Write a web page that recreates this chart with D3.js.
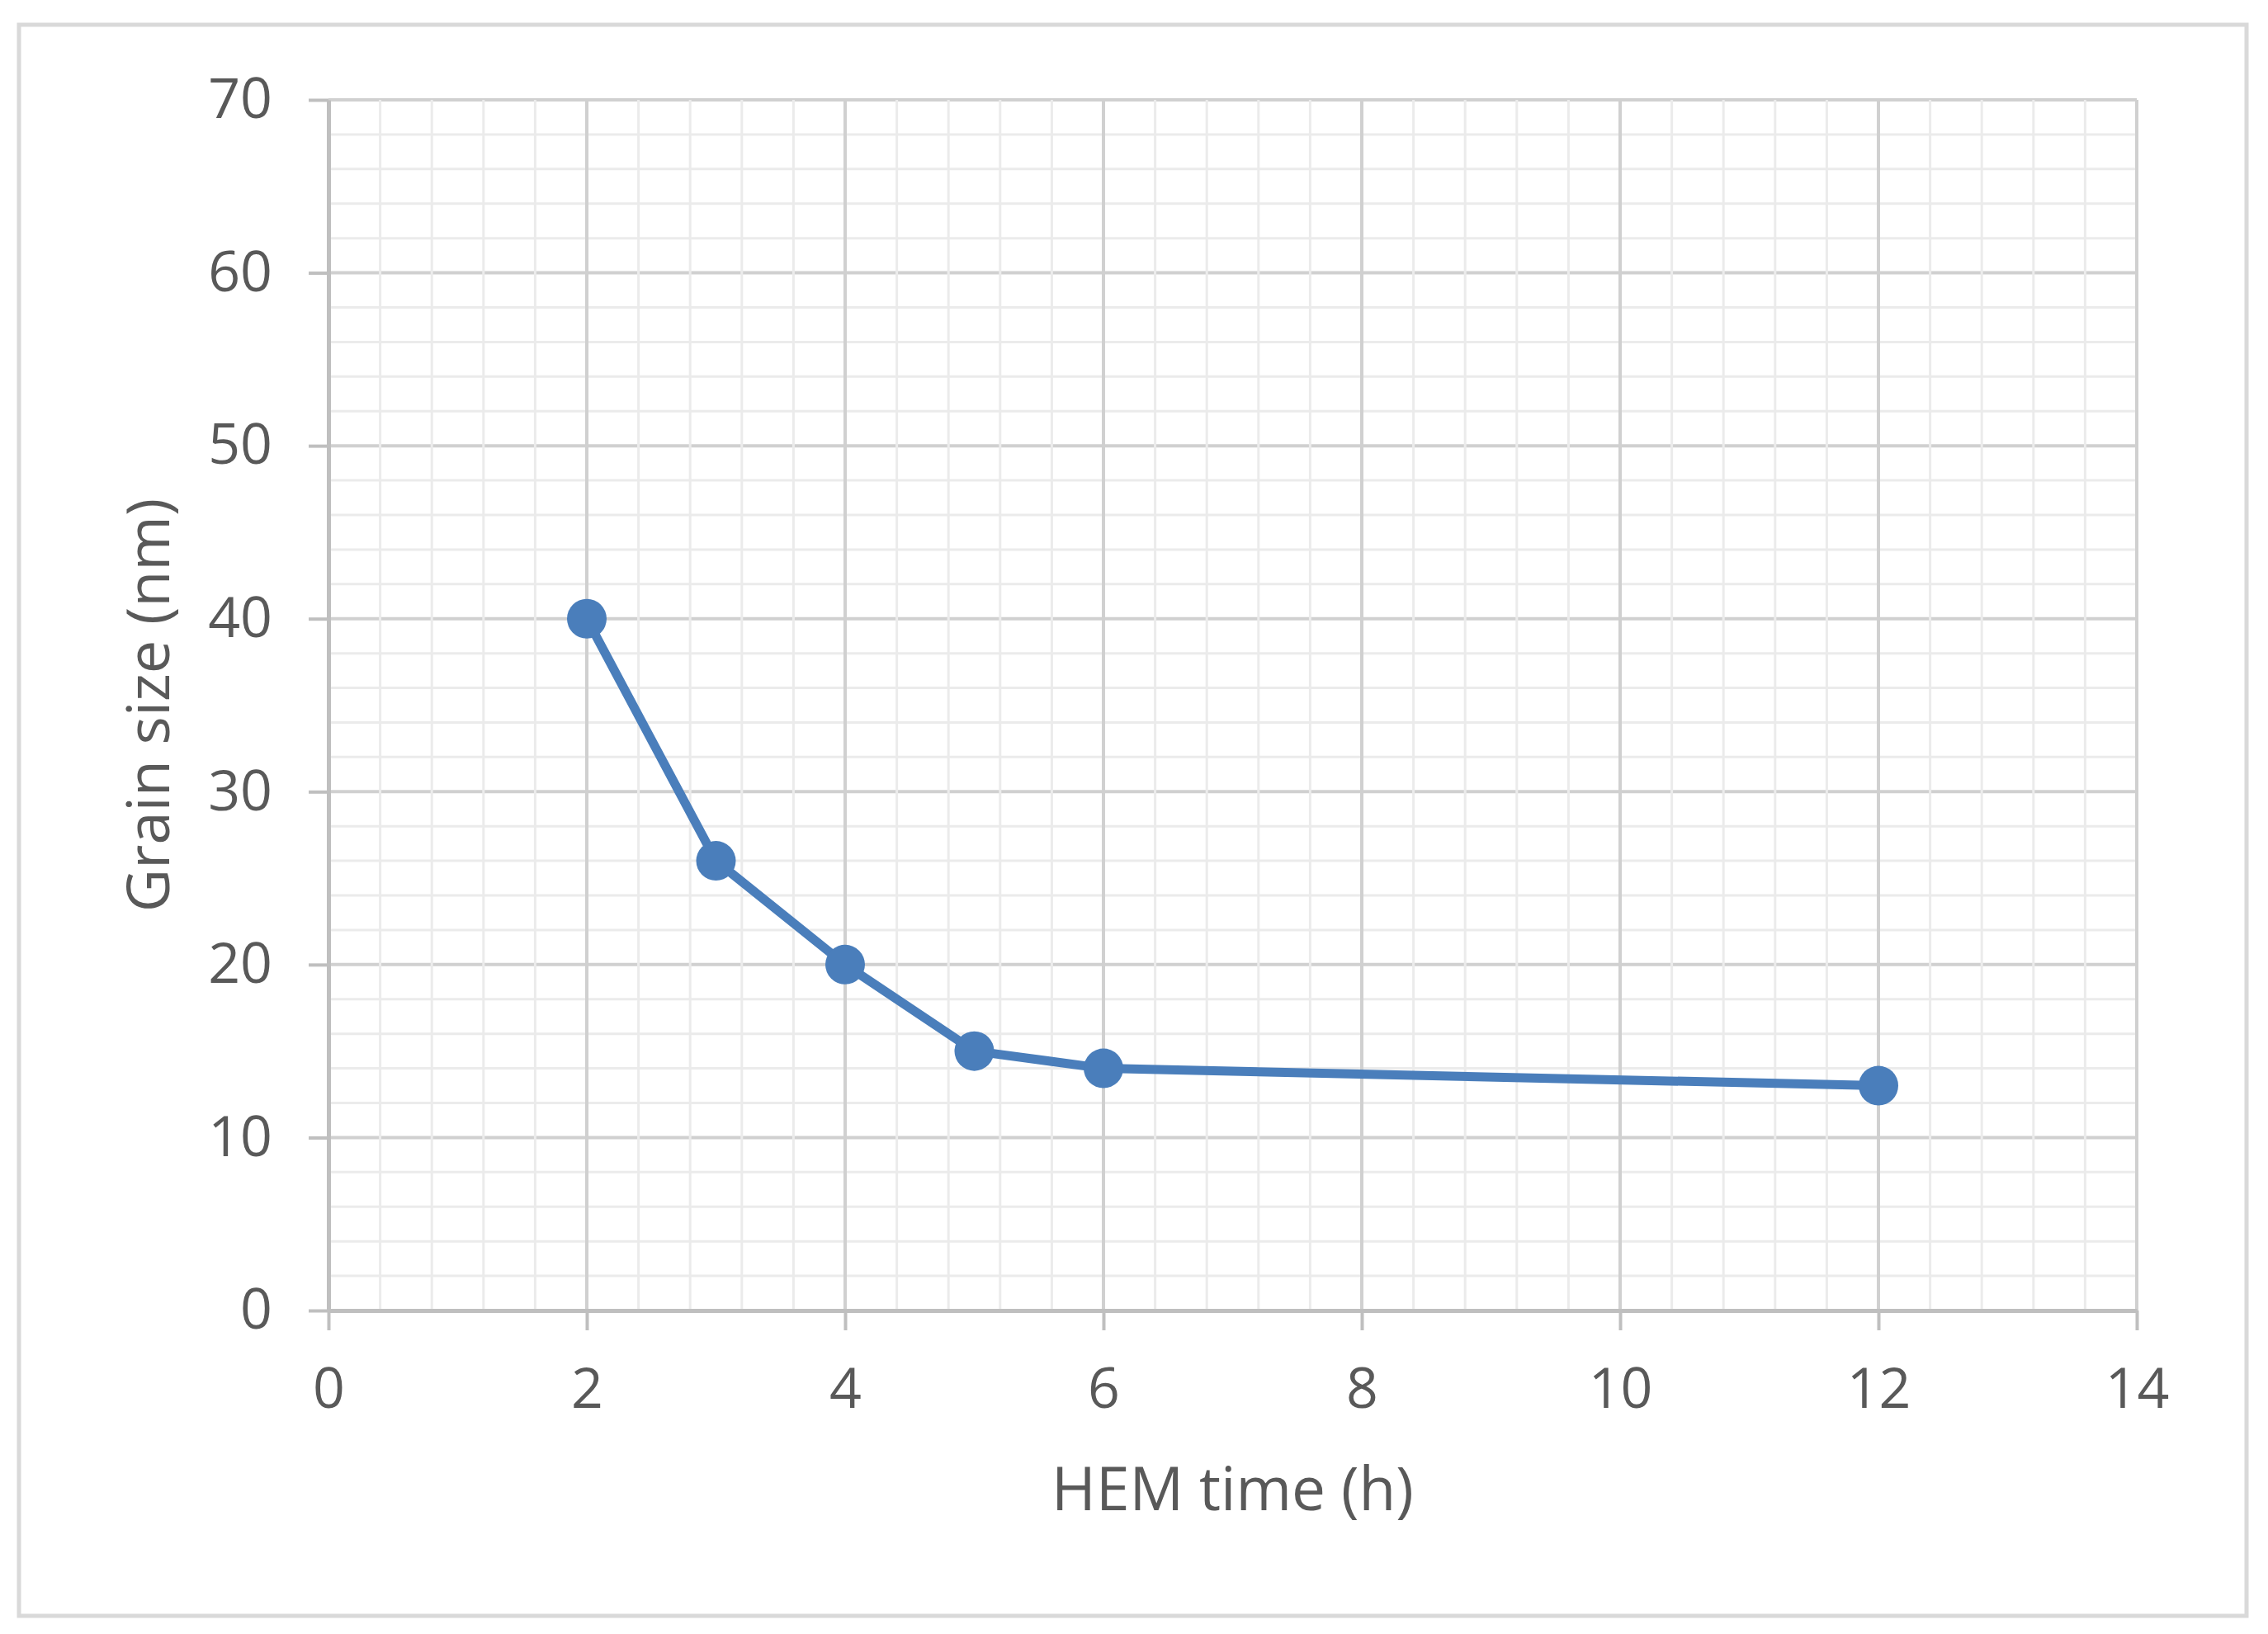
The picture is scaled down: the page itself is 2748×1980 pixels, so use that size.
<!DOCTYPE html>
<html lang="en">
  <head>
    <meta charset="utf-8">
    <title>Grain size vs HEM time</title>
    <script src="https://d3js.org/d3.v7.min.js"></script>
    <style>
      body { margin: 0; background: #fff; }
      text { font-family: "Open Sans", sans-serif; fill: #595959; }
    </style>
  </head>
  <body>
  <div id="chart"></div>
  <script>

  // data
  var hemTime = [2, 3, 4, 5, 6, 12];
  var grainSize = [40, 26, 20, 15, 14, 13];
  var xTicks = [0, 2, 4, 6, 8, 10, 12, 14];
  var yTicks = [0, 10, 20, 30, 40, 50, 60, 70];
  var xLabel = "HEM time (h)";
  var yLabel = "Grain size (nm)";

  var w = 2748;
  var h = 1980;
  var margin = {top: 121, right: 159, bottom: 392, left: 398};
  var innerWidth = w - margin.left - margin.right;
  var innerHeight = h - margin.top - margin.bottom;

  var svg = d3.select("#chart")
    .append("svg")
    .attr("width", w)
    .attr("height", h);

  // outer frame
  svg.append("rect")
    .attr("x", 23)
    .attr("y", 30)
    .attr("width", 2699)
    .attr("height", 1928)
    .attr("fill", "#fff")
    .attr("stroke", "#d9d9d9")
    .attr("stroke-width", 5);

  var xScale = d3.scaleLinear().domain([0, 14]).range([0, innerWidth]);
  var yScale = d3.scaleLinear().domain([0, 70]).range([innerHeight, 0]);

  var g = svg.append("g")
    .attr("transform", `translate (${margin.left}, ${margin.top})`);

  // minor horizontal gridlines (every 2)
  g.selectAll(".minor-y")
    .data(d3.range(0, 71, 2).filter(d => d % 10 != 0))
    .enter().append("line")
    .attr("x1", 0).attr("x2", innerWidth)
    .attr("y1", d => yScale(d)).attr("y2", d => yScale(d))
    .attr("stroke", "#ebebeb")
    .attr("stroke-width", 3);

  // major horizontal gridlines
  g.selectAll(".major-y")
    .data(yTicks.slice(1))
    .enter().append("line")
    .attr("x1", 0).attr("x2", innerWidth)
    .attr("y1", d => yScale(d)).attr("y2", d => yScale(d))
    .attr("stroke", "#d0d0d0")
    .attr("stroke-width", 4);

  // minor vertical gridlines (every 0.4), drawn over the major horizontals
  g.selectAll(".minor-x")
    .data(d3.range(0, 71).map(d => d * 0.2).filter(d => Math.round(d * 10) % 4 == 0 && Math.round(d * 10) % 20 != 0))
    .enter().append("line")
    .attr("x1", d => xScale(d)).attr("x2", d => xScale(d))
    .attr("y1", 0).attr("y2", innerHeight)
    .attr("stroke", "#ebebeb")
    .attr("stroke-width", 3);

  // major vertical gridlines
  g.selectAll(".major-x")
    .data(xTicks.slice(1))
    .enter().append("line")
    .attr("x1", d => xScale(d)).attr("x2", d => xScale(d))
    .attr("y1", 0).attr("y2", innerHeight)
    .attr("stroke", "#d0d0d0")
    .attr("stroke-width", 4);

  // axes
  var xAxis = d3.axisBottom(xScale)
    .tickValues(xTicks)
    .tickSize(24)
    .tickSizeOuter(0)
    .tickPadding(46)
    .tickFormat(d3.format("d"));

  var yAxis = d3.axisLeft(yScale)
    .tickValues(yTicks)
    .tickSize(24)
    .tickSizeOuter(0)
    .tickPadding(44)
    .tickFormat(d3.format("d"));

  var gx = g.append("g")
    .attr("class", "xAxis")
    .attr("transform", `translate (0, ${innerHeight})`)
    .call(xAxis);

  var gy = g.append("g")
    .attr("class", "yAxis")
    .call(yAxis);

  [gx, gy].forEach(function (ax) {
    ax.select(".domain").attr("stroke", "#bfbfbf").attr("stroke-width", 5);
    ax.selectAll(".tick line").attr("stroke", "#bfbfbf").attr("stroke-width", 4);
    ax.selectAll(".tick text")
      .attr("fill", "#595959")
      .style("font-family", "'Open Sans', sans-serif")
      .style("font-size", "68px");
  });

  // series
  var pts = hemTime.map((t, i) => ({x: t, y: grainSize[i]}));

  var line = d3.line()
    .x(d => xScale(d.x))
    .y(d => yScale(d.y));

  g.append("path")
    .datum(pts)
    .attr("d", line)
    .attr("fill", "none")
    .attr("stroke", "#4a7ebb")
    .attr("stroke-width", 11)
    .attr("stroke-linejoin", "round");

  g.selectAll("circle")
    .data(pts)
    .enter().append("circle")
    .attr("cx", d => xScale(d.x))
    .attr("cy", d => yScale(d.y))
    .attr("r", 24)
    .attr("fill", "#4a7ebb");

  // axis titles
  svg.append("text")
    .attr("x", margin.left + innerWidth / 2)
    .attr("y", 1830)
    .attr("text-anchor", "middle")
    .style("font-size", "73px")
    .text(xLabel);

  svg.append("text")
    .attr("transform", `translate (${205}, ${margin.top + innerHeight / 2}) rotate(-90)`)
    .attr("text-anchor", "middle")
    .style("font-size", "72px")
    .text(yLabel);

  </script>
  </body>
</html>
